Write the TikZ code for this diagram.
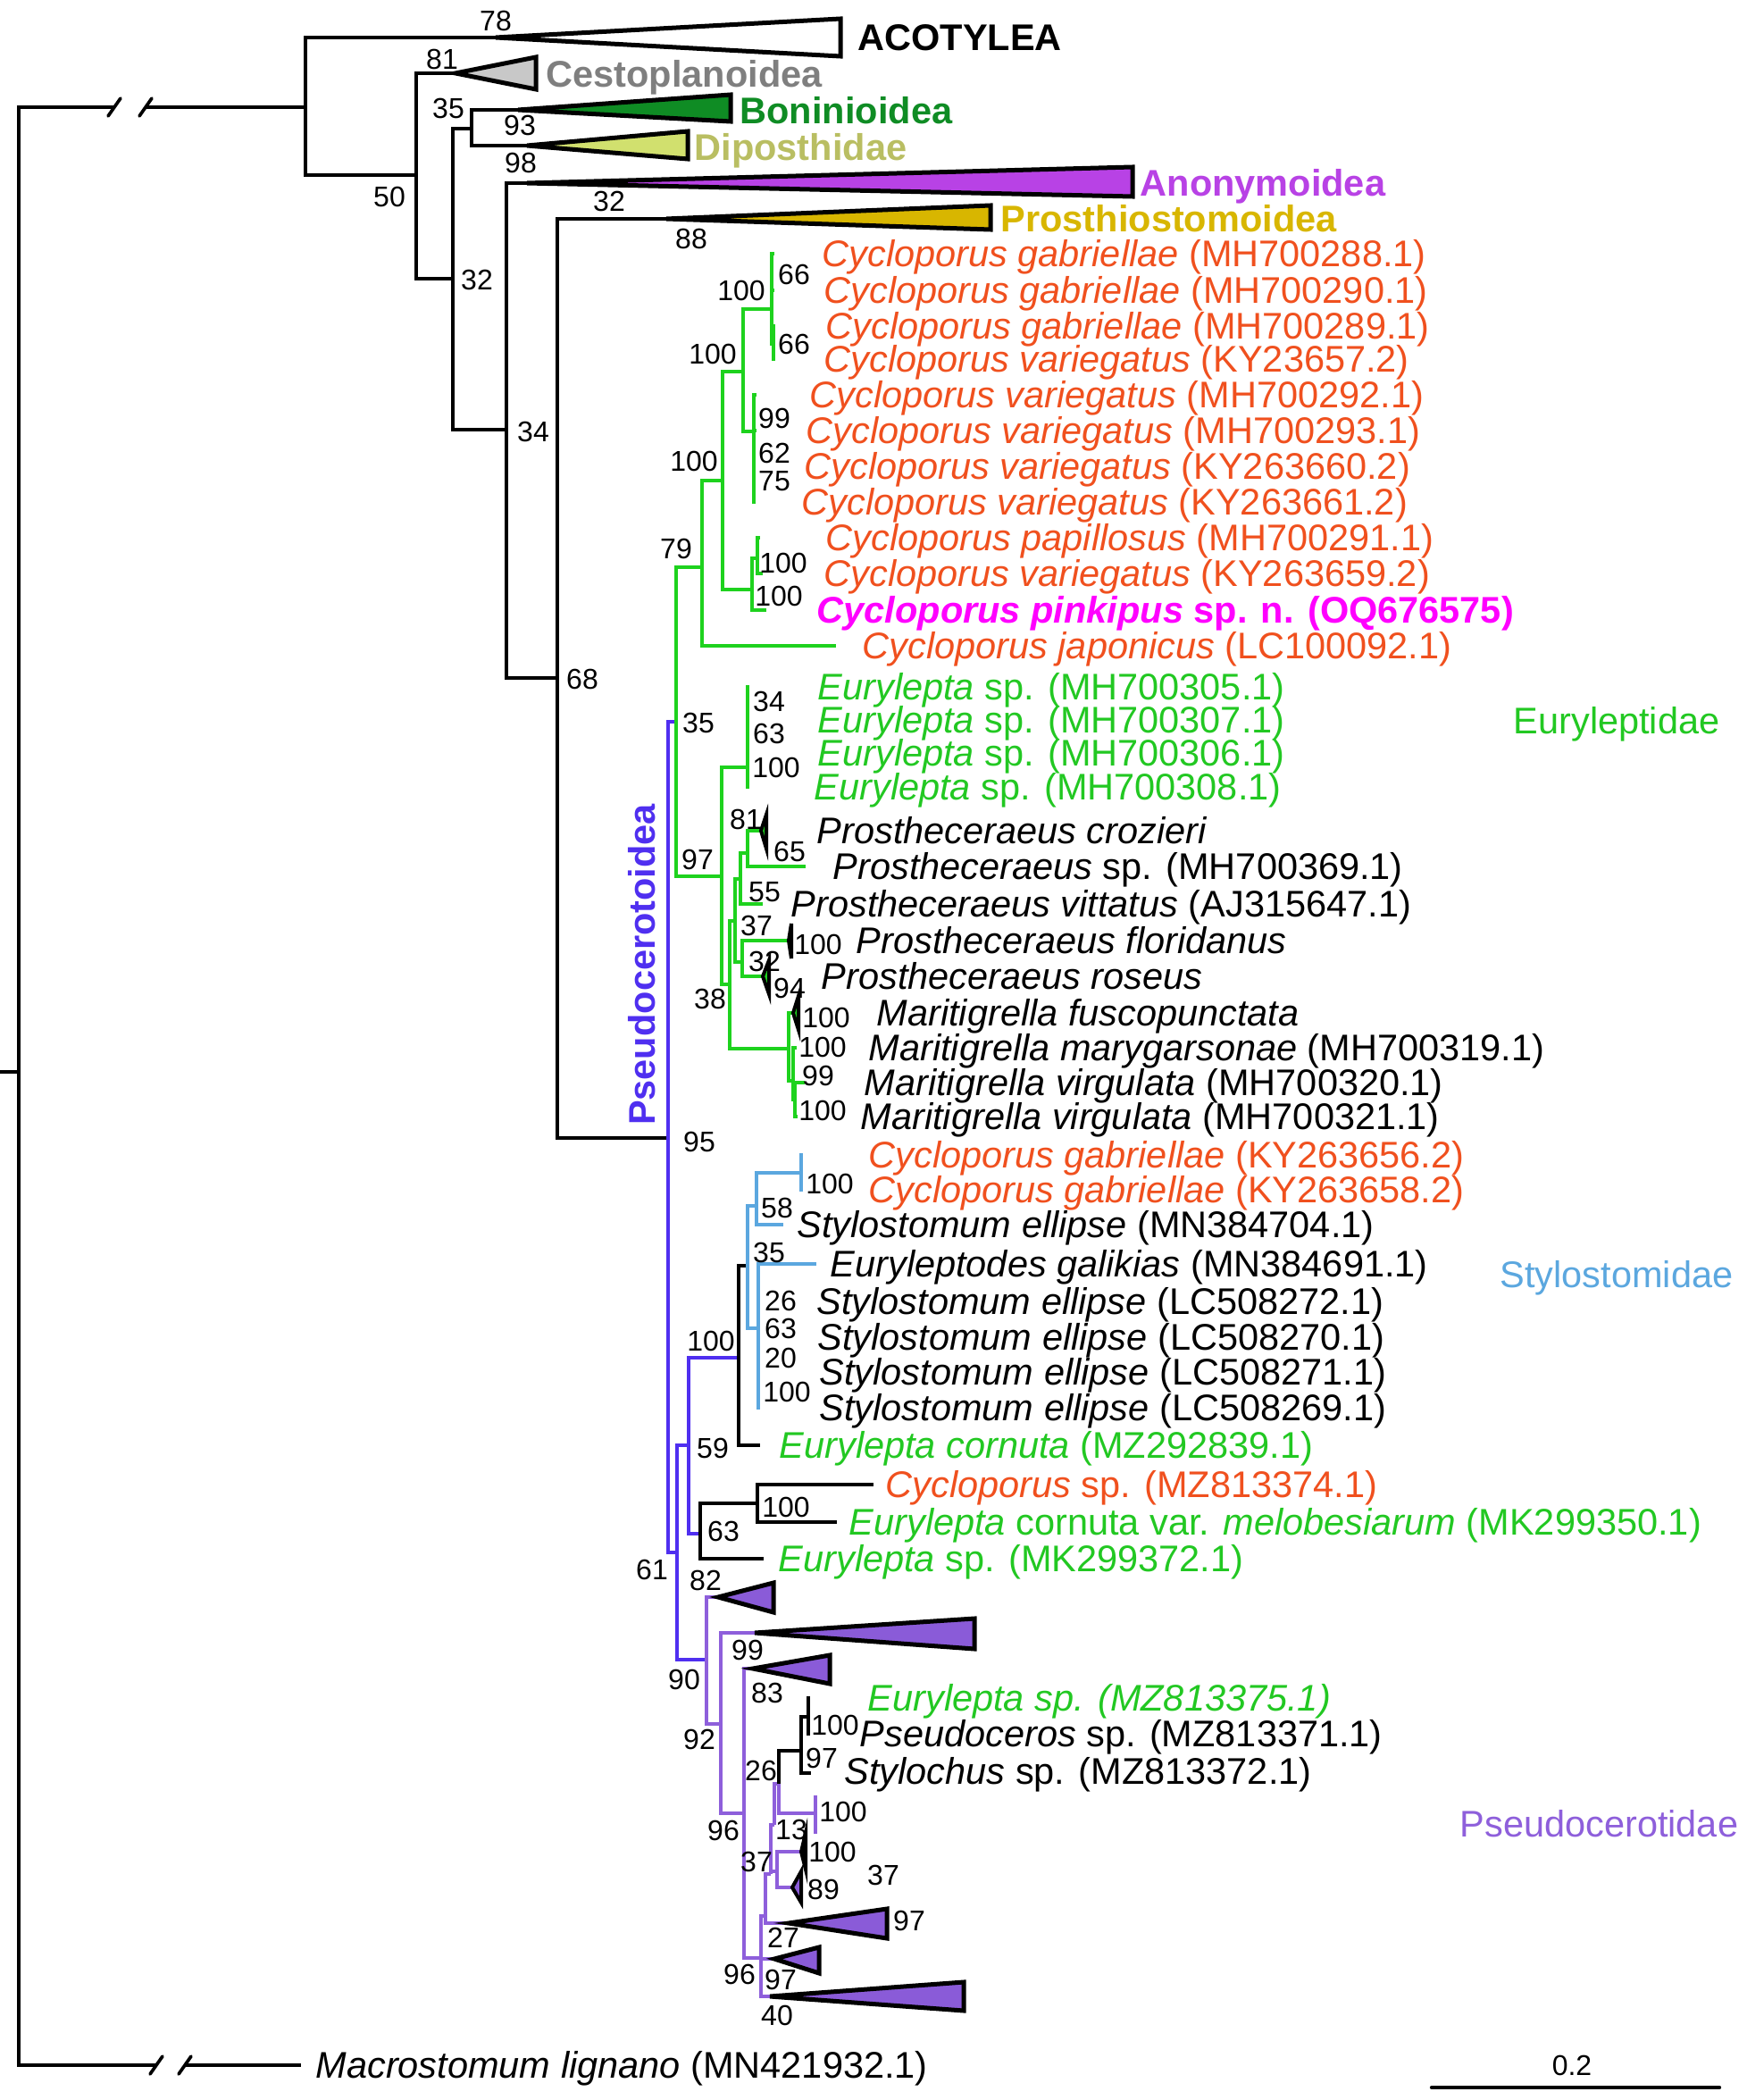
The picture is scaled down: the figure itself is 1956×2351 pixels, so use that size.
\documentclass[tikz,border=0pt]{standalone}
\usepackage{fontspec}
\setmainfont{Liberation Sans}
\usetikzlibrary{calc}
\definecolor{cyc}{HTML}{F0501E}
\definecolor{gr}{HTML}{1ED21E}
\definecolor{grt}{HTML}{22C822}
\definecolor{mag}{HTML}{FF00FF}
\definecolor{psb}{HTML}{4F2FF0}
\definecolor{lbl}{HTML}{5BA7DF}
\definecolor{pur}{HTML}{8E5FDB}
\definecolor{purf}{HTML}{8A5BD8}
\definecolor{ano}{HTML}{B842E5}
\definecolor{pro}{HTML}{D8B600}
\definecolor{bon}{HTML}{0F8C24}
\definecolor{dipf}{HTML}{D1E06E}
\definecolor{dipt}{HTML}{B9BE62}
\definecolor{cesf}{HTML}{C8C8C8}
\definecolor{cest}{HTML}{7F7F7F}
\newcommand\ed[3]{\draw[#1] (#2) |- (#3);}
\newcommand\nb[4]{\node[nm] (#1) at (#2,#3) {#4};}
\begin{document}
\begin{tikzpicture}[x=0.3pt,y=-0.3pt,
 br/.style={line width=1.1pt},
 kb/.style={br,black}, gb/.style={br,gr}, bb/.style={br,psb}, lb/.style={br,lbl}, pb/.style={br,pur},
 tri/.style={draw=black,line width=1.5pt,line join=miter},
 tl/.style={anchor=west,inner sep=0pt,font=\fontsize{12.45}{14}\selectfont,text height=8.9pt,text depth=0pt},
 nm/.style={inner sep=0pt,font=\fontsize{9.6}{11}\selectfont,text height=6.9pt,text depth=0pt},
 cl/.style={anchor=west,inner sep=0pt,font=\fontsize{12.45}{14}\selectfont\bfseries,text height=8.9pt,text depth=0pt},
]
\fill[white] (0,0) rectangle (1956,2351);
\useasboundingbox (0,0) rectangle (1956,2351);

% ---------- backbone ----------
\coordinate (rt) at (0,1200);
\coordinate (r0) at (21,1200);
\coordinate (bk1) at (128,120);
\coordinate (bk2) at (163,120);
\coordinate (A) at (342,120);
\coordinate (bk3) at (175,2312);
\coordinate (bk4) at (207,2312);
\coordinate (mac) at (337,2312);
\draw[kb] (rt) -- (r0);
\draw[kb] (r0) |- (bk1);
\draw[kb] (bk2) -- (A);
\draw[kb] (r0) |- (bk3);
\draw[kb] (bk4) -- (mac);
\foreach \p in {bk1,bk2,bk3,bk4}{\draw[kb,line cap=round] ($(\p)+(-7,10)$) -- ($(\p)+(7,-10)$);}

\coordinate (acoA) at (555,42);
\coordinate (B) at (466,196);
\coordinate (cesA) at (510,82);
\coordinate (C) at (507,312);
\coordinate (D) at (528,144);
\coordinate (bonA) at (580,123);
\coordinate (dipA) at (590,163);
\coordinate (E) at (567,481);
\coordinate (anoA) at (590,205);
\coordinate (F) at (624,759);
\coordinate (proA) at (746,245);
\coordinate (PS) at (748,1274);
\ed{kb}{A}{acoA} \ed{kb}{A}{B} \ed{kb}{B}{cesA} \ed{kb}{B}{C}
\ed{kb}{C}{D} \ed{kb}{D}{bonA} \ed{kb}{D}{dipA} \ed{kb}{C}{E}
\ed{kb}{E}{anoA} \ed{kb}{E}{F} \ed{kb}{F}{proA} \ed{kb}{F}{PS}
\draw[tri,fill=white] (acoA) -- (941,21) -- (941,63) -- cycle;
\draw[tri,fill=cesf] (cesA) -- (600,64) -- (600,100) -- cycle;
\draw[tri,fill=bon] (bonA) -- (818,106) -- (818,136) -- cycle;
\draw[tri,fill=dipf] (dipA) -- (770,147) -- (770,178) -- cycle;
\draw[tri,fill=ano] (anoA) -- (1268,187) -- (1268,220) -- cycle;
\draw[tri,fill=pro] (proA) -- (1109,230) -- (1109,257) -- cycle;

\node[cl,text=black] (acoL) at (960,42) {ACOTYLEA};
\node[cl,text=cest] (cesL) at (611,83) {Cestoplanoidea};
\node[cl,text=bon] (bonL) at (828,124) {Boninioidea};
\node[cl,text=dipt] (dipL) at (777,165) {Diposthidae};
\node[cl,text=ano] (anoL) at (1276,205) {Anonymoidea};
\node[cl,text=pro] (proL) at (1120,245) {Prosthiostomoidea};

% ---------- Euryleptidae (green) ----------
\coordinate (G) at (757,808);
\coordinate (H) at (786,635);
\coordinate (I) at (809,538);
\coordinate (jap) at (936,723);
\coordinate (J) at (832,416);
\coordinate (K) at (842,660);
\coordinate (L) at (864,346);
\coordinate (L2) at (866,385);
\coordinate (M) at (844,483);
\coordinate (N) at (848,625);
\coordinate (t1) at (867,284);
\coordinate (t2) at (867,325);
\coordinate (t3) at (868,365);
\coordinate (t4) at (868,402);
\coordinate (t5) at (847,442);
\coordinate (t6) at (847,482);
\coordinate (t7) at (846,522);
\coordinate (t8) at (846,562);
\coordinate (t9) at (851,602);
\coordinate (t10) at (854,642);
\coordinate (pink) at (858,683);
\ed{bb}{PS}{G}
\ed{gb}{G}{H} \ed{gb}{H}{I} \ed{gb}{H}{jap} \ed{gb}{I}{J} \ed{gb}{I}{K}
\ed{gb}{J}{L} \ed{gb}{J}{M} \ed{gb}{L}{t1} \ed{gb}{L}{t2} \ed{gb}{L}{L2}
\ed{gb}{L2}{t3} \ed{gb}{L2}{t4}
\ed{gb}{M}{t5} \ed{gb}{M}{t6} \ed{gb}{M}{t7} \ed{gb}{M}{t8}
\ed{gb}{K}{N} \ed{gb}{K}{pink} \ed{gb}{N}{t9} \ed{gb}{N}{t10}

\coordinate (O) at (808,981);
\coordinate (P) at (837,859);
\coordinate (e1) at (839,769);
\coordinate (e2) at (839,806);
\coordinate (e3) at (839,843);
\coordinate (e4) at (839,881);
\coordinate (Q) at (817,1102);
\coordinate (S) at (823,1031);
\coordinate (U) at (829,984);
\coordinate (V) at (837,955);
\coordinate (croA) at (852,930);
\coordinate (psp) at (902,970);
\coordinate (vit) at (854,1012);
\coordinate (T) at (831,1077);
\coordinate (floA) at (883,1053);
\coordinate (rosA) at (854,1093);
\coordinate (R) at (883,1174);
\coordinate (fusA) at (888,1134);
\coordinate (W) at (888,1210);
\coordinate (mary) at (892,1173);
\coordinate (X) at (890,1231);
\coordinate (vir1) at (901,1212);
\coordinate (vir2) at (893,1250);
\ed{gb}{G}{O} \ed{gb}{O}{P}
\ed{gb}{P}{e1} \ed{gb}{P}{e2} \ed{gb}{P}{e3} \ed{gb}{P}{e4}
\ed{gb}{O}{Q} \ed{gb}{Q}{S} \ed{gb}{S}{U} \ed{gb}{U}{V}
\ed{gb}{V}{croA} \ed{gb}{V}{psp} \ed{gb}{U}{vit}
\ed{gb}{S}{T} \ed{gb}{T}{floA} \ed{gb}{T}{rosA}
\ed{gb}{Q}{R} \ed{gb}{R}{fusA} \ed{gb}{R}{W} \ed{gb}{W}{mary} \ed{gb}{W}{X}
\ed{gb}{X}{vir1} \ed{gb}{X}{vir2}
\draw[tri,fill=gr,line width=1.2pt] (croA) -- (858,912) -- (858,950) -- cycle;
\draw[tri,fill=black,line width=1.2pt] (floA) -- (886,1034) -- (886,1073) -- cycle;
\draw[tri,fill=gr,line width=1.2pt] (rosA) -- (861,1075) -- (861,1113) -- cycle;
\draw[tri,fill=gr,line width=1.2pt] (fusA) -- (894,1115) -- (894,1153) -- cycle;

% ---------- rest of Pseudocerotoidea ----------
\coordinate (PB) at (758,1738);
\coordinate (PC) at (771,1618);
\coordinate (FF) at (791,1858);
\coordinate (Y) at (827,1520);
\coordinate (Z) at (784,1717);
\coordinate (AA) at (837,1417);
\coordinate (corn) at (851,1618);
\coordinate (BB) at (847,1350);
\coordinate (DD) at (849,1487);
\coordinate (CC) at (897,1313);
\coordinate (s1) at (899,1293);
\coordinate (s2) at (899,1332);
\coordinate (s3) at (877,1371);
\coordinate (gal) at (914,1415);
\coordinate (s5) at (851,1457);
\coordinate (s6) at (851,1497);
\coordinate (s7) at (851,1536);
\coordinate (s8) at (851,1576);
\coordinate (EE) at (848,1683);
\coordinate (cysp) at (978,1662);
\coordinate (melo) at (937,1704);
\coordinate (mk) at (855,1745);
\ed{bb}{PS}{PB} \ed{bb}{PB}{PC} \ed{bb}{PB}{FF} \ed{bb}{PC}{Y} \ed{bb}{PC}{Z}
\ed{kb}{Y}{AA} \ed{kb}{Y}{corn}
\ed{lb}{AA}{BB} \ed{lb}{AA}{DD} \ed{lb}{BB}{CC} \ed{lb}{BB}{s3}
\ed{lb}{CC}{s1} \ed{lb}{CC}{s2}
\ed{lb}{DD}{gal} \ed{lb}{DD}{s5} \ed{lb}{DD}{s6} \ed{lb}{DD}{s7} \ed{lb}{DD}{s8}
\ed{kb}{Z}{EE} \ed{kb}{Z}{mk} \ed{kb}{EE}{cysp} \ed{kb}{EE}{melo}

% ---------- Pseudocerotidae (purple) ----------
\coordinate (t82) at (804,1788);
\coordinate (GG) at (807,1930);
\coordinate (t99) at (845,1828);
\coordinate (HH) at (833,2030);
\coordinate (t83) at (843,1868);
\coordinate (P2) at (852,2192);
\coordinate (P1) at (857,2145);
\coordinate (tsm) at (867,2193);
\coordinate (t40) at (862,2235);
\coordinate (P0) at (863,2098);
\coordinate (t97) at (883,2153);
\coordinate (MM) at (867,2043);
\coordinate (OO) at (870,2095);
\coordinate (JJ) at (872,1997);
\coordinate (KK) at (897,1960);
\coordinate (pbar) at (913,2030);
\coordinate (LL) at (905,1922);
\coordinate (styl) at (908,1985);
\coordinate (u1) at (907,1901);
\coordinate (u2) at (907,1941);
\coordinate (wdg) at (897,2073);
\coordinate (t89) at (887,2113);
\ed{pb}{FF}{t82} \ed{pb}{FF}{GG} \ed{pb}{GG}{t99} \ed{pb}{GG}{HH}
\ed{pb}{HH}{t83} \ed{pb}{HH}{P2} \ed{pb}{P2}{P1} \ed{pb}{P2}{tsm} \ed{pb}{P2}{t40}
\ed{pb}{P1}{P0} \ed{pb}{P1}{t97} \ed{pb}{P0}{MM} \ed{pb}{P0}{OO} \ed{pb}{MM}{JJ}
\ed{kb}{JJ}{KK} \ed{pb}{JJ}{pbar}
\draw[pb] ($(pbar)+(0,-20)$) -- ($(pbar)+(0,23)$);
\ed{kb}{KK}{LL} \ed{kb}{KK}{styl} \ed{kb}{LL}{u1} \ed{kb}{LL}{u2}
\ed{pb}{OO}{wdg} \ed{pb}{OO}{t89}
\draw[tri,fill=purf] (t82) -- (866,1772) -- (866,1805) -- cycle;
\draw[tri,fill=purf] (t99) -- (1091,1812) -- (1091,1846) -- cycle;
\draw[tri,fill=purf] (t83) -- (929,1853) -- (929,1885) -- cycle;
\draw[tri,fill=purf] (t97) -- (993,2137) -- (993,2170) -- cycle;
\draw[tri,fill=purf] (tsm) -- (917,2180) -- (917,2209) -- cycle;
\draw[tri,fill=purf] (t40) -- (1079,2219) -- (1079,2251) -- cycle;
\draw[tri,fill=black,line width=1.2pt] (wdg) -- (902,2052) -- (902,2093) -- cycle;
\draw[tri,fill=purf,line width=1.2pt] (t89) -- (897,2095) -- (897,2130) -- cycle;

% ---------- scale bar ----------
\coordinate (sb1) at (1603,2337);
\coordinate (sb2) at (1925,2337);
\draw[black,line width=1.3pt,line cap=round] (sb1) -- (sb2);
\nb{sbl}{1760}{2312}{0.2}

% ---------- tip labels ----------
\begin{scope}[every node/.append style={tl}]
\node[text=cyc] (c1) at (920,284) {\textit{Cycloporus gabriellae} (MH700288.1)};
\node[text=cyc] (c2) at (922,325) {\textit{Cycloporus gabriellae} (MH700290.1)};
\node[text=cyc] (c3) at (924,365) {\textit{Cycloporus gabriellae} (MH700289.1)};
\node[text=cyc] (c4) at (922,402) {\textit{Cycloporus variegatus} (KY23657.2)};
\node[text=cyc] (c5) at (906,442) {\textit{Cycloporus variegatus} (MH700292.1)};
\node[text=cyc] (c6) at (902,482) {\textit{Cycloporus variegatus} (MH700293.1)};
\node[text=cyc] (c7) at (900,522) {\textit{Cycloporus variegatus} (KY263660.2)};
\node[text=cyc] (c8) at (897,562) {\textit{Cycloporus variegatus} (KY263661.2)};
\node[text=cyc] (c9) at (924,602) {\textit{Cycloporus papillosus} (MH700291.1)};
\node[text=cyc] (c10) at (922,642) {\textit{Cycloporus variegatus} (KY263659.2)};
\node[text=mag,font=\fontsize{12.45}{14}\selectfont\bfseries] (c11) at (914,683) {\textit{Cycloporus pinkipus} sp. n. (OQ676575)};
\node[text=cyc] (c12) at (965,723) {\textit{Cycloporus japonicus} (LC100092.1)};
\node[text=grt] (e1l) at (915,769) {\textit{Eurylepta} sp. (MH700305.1)};
\node[text=grt] (e2l) at (915,806) {\textit{Eurylepta} sp. (MH700307.1)};
\node[text=grt] (e3l) at (915,843) {\textit{Eurylepta} sp. (MH700306.1)};
\node[text=grt] (e4l) at (911,881) {\textit{Eurylepta} sp. (MH700308.1)};
\node (p1l) at (914,930) {\textit{Prostheceraeus crozieri}};
\node (p2l) at (932,970) {\textit{Prostheceraeus} sp. (MH700369.1)};
\node (p3l) at (885,1012) {\textit{Prostheceraeus vittatus} (AJ315647.1)};
\node (p4l) at (958,1053) {\textit{Prostheceraeus floridanus}};
\node (p5l) at (919,1093) {\textit{Prostheceraeus roseus}};
\node (m1l) at (981,1134) {\textit{Maritigrella fuscopunctata}};
\node (m2l) at (972,1173) {\textit{Maritigrella marygarsonae} (MH700319.1)};
\node (m3l) at (967,1212) {\textit{Maritigrella virgulata} (MH700320.1)};
\node (m4l) at (963,1250) {\textit{Maritigrella virgulata} (MH700321.1)};
\node[text=cyc] (s1l) at (972,1293) {\textit{Cycloporus gabriellae} (KY263656.2)};
\node[text=cyc] (s2l) at (972,1332) {\textit{Cycloporus gabriellae} (KY263658.2)};
\node (s3l) at (892,1371) {\textit{Stylostomum ellipse} (MN384704.1)};
\node (s4l) at (929,1415) {\textit{Euryleptodes galikias} (MN384691.1)};
\node (s5l) at (914,1457) {\textit{Stylostomum ellipse} (LC508272.1)};
\node (s6l) at (915,1497) {\textit{Stylostomum ellipse} (LC508270.1)};
\node (s7l) at (917,1536) {\textit{Stylostomum ellipse} (LC508271.1)};
\node (s8l) at (917,1576) {\textit{Stylostomum ellipse} (LC508269.1)};
\node[text=grt] (s9l) at (872,1618) {\textit{Eurylepta cornuta} (MZ292839.1)};
\node[text=cyc] (x1l) at (991,1662) {\textit{Cycloporus} sp. (MZ813374.1)};
\node[text=grt] (x2l) at (950,1704) {\textit{Eurylepta} cornuta var. \textit{melobesiarum} (MK299350.1)};
\node[text=grt] (x3l) at (871,1745) {\textit{Eurylepta} sp. (MK299372.1)};
\node[text=grt] (y1l) at (971,1901) {\textit{Eurylepta sp. (MZ813375.1)}};
\node (y2l) at (962,1941) {\textit{Pseudoceros} sp. (MZ813371.1)};
\node (y3l) at (945,1983) {\textit{Stylochus} sp. (MZ813372.1)};
\node (macl) at (353,2312) {\textit{Macrostomum lignano} (MN421932.1)};
\node[text=grt] (eurL) at (1694,807) {Euryleptidae};
\node[text=lbl] (styL) at (1679,1427) {Stylostomidae};
\node[text=pur] (pscL) at (1634,2042) {Pseudocerotidae};
\end{scope}
\node[rotate=90,inner sep=0pt,text=psb,font=\fontsize{12.45}{14}\selectfont\bfseries] (psL) at (719,1080) {Pseudocerotoidea};

% ---------- support values ----------
\nb{n1}{555}{23}{78}
\nb{n2}{495}{66}{81}
\nb{n3}{502}{121}{35}
\nb{n4}{582}{140}{93}
\nb{n5}{583}{182}{98}
\nb{n6}{436}{220}{50}
\nb{n7}{534}{313}{32}
\nb{n8}{682}{225}{32}
\nb{n9}{774}{267}{88}
\nb{n10}{597}{483}{34}
\nb{n11}{652}{760}{68}
\nb{n12}{889}{307}{66}
\nb{n13}{889}{385}{66}
\nb{n14}{830}{325}{100}
\nb{n15}{798}{396}{100}
\nb{n16}{777}{516}{100}
\nb{n17}{867}{468}{99}
\nb{n18}{867}{507}{62}
\nb{n19}{867}{538}{75}
\nb{n20}{757}{614}{79}
\nb{n21}{877}{630}{100}
\nb{n22}{872}{667}{100}
\nb{n23}{861}{785}{34}
\nb{n24}{861}{821}{63}
\nb{n25}{869}{859}{100}
\nb{n26}{782}{809}{35}
\nb{n27}{835}{917}{81}
\nb{n28}{884}{953}{65}
\nb{n29}{781}{962}{97}
\nb{n30}{856}{998}{55}
\nb{n31}{847}{1036}{37}
\nb{n32}{916}{1057}{100}
\nb{n33}{856}{1076}{32}
\nb{n34}{884}{1106}{94}
\nb{n35}{795}{1118}{38}
\nb{n36}{925}{1139}{100}
\nb{n37}{921}{1172}{100}
\nb{n38}{916}{1204}{99}
\nb{n39}{921}{1243}{100}
\nb{n40}{783}{1278}{95}
\nb{n41}{929}{1325}{100}
\nb{n42}{870}{1352}{58}
\nb{n43}{861}{1402}{35}
\nb{n44}{874}{1456}{26}
\nb{n45}{874}{1487}{63}
\nb{n46}{874}{1520}{20}
\nb{n47}{881}{1558}{100}
\nb{n48}{796}{1501}{100}
\nb{n49}{798}{1621}{59}
\nb{n50}{880}{1687}{100}
\nb{n51}{810}{1714}{63}
\nb{n52}{730}{1757}{61}
\nb{n53}{790}{1769}{82}
\nb{n54}{837}{1847}{99}
\nb{n55}{766}{1880}{90}
\nb{n56}{859}{1895}{83}
\nb{n57}{935}{1931}{100}
\nb{n58}{783}{1947}{92}
\nb{n59}{920}{1968}{97}
\nb{n60}{852}{1982}{26}
\nb{n61}{944}{2028}{100}
\nb{n62}{886}{2048}{13}
\nb{n63}{810}{2049}{96}
\nb{n64}{932}{2073}{100}
\nb{n65}{847}{2084}{37}
\nb{n66}{989}{2099}{37}
\nb{n67}{922}{2115}{89}
\nb{n68}{1018}{2150}{97}
\nb{n69}{877}{2169}{27}
\nb{n70}{828}{2210}{96}
\nb{n71}{874}{2216}{97}
\nb{n72}{870}{2256}{40}
\end{tikzpicture}
\end{document}
